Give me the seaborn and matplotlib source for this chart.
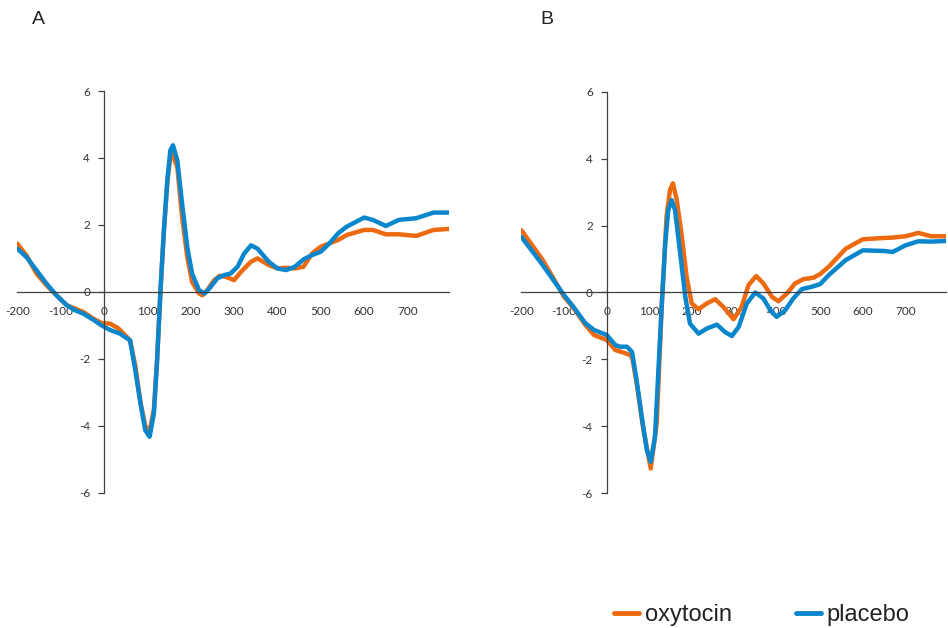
import numpy as np
import pandas as pd
import matplotlib
matplotlib.use("Agg")
import matplotlib.pyplot as plt
from matplotlib.lines import Line2D
import seaborn as sns

# ---- data ----
a_x_oxy = [-200, -179, -156, -133, -110, -86, -67, -48, -25, -6, 14, 33, 52, 60, 72, 84, 95, 105, 115, 122, 130,
           138, 146, 153, 157, 169, 180, 192, 203, 219, 227, 238, 254, 267, 281, 300, 316, 339, 354, 380, 400, 420,
           440, 460, 480, 500, 520, 540, 560, 600, 620, 650, 680, 720, 760, 795]
a_y_oxy = [1.44, 1.09, 0.55, 0.2, -0.1, -0.4, -0.5, -0.6, -0.8, -0.93, -0.95, -1.09, -1.34, -1.45, -2.2, -3.3, -4.0,
           -4.18, -3.5, -2.1, 0.0, 1.8, 3.3, 4.05, 4.13, 3.73, 2.24, 1.04, 0.3, -0.05, -0.1, 0.05, 0.35, 0.48, 0.45,
           0.35, 0.6, 0.9, 1.0, 0.8, 0.7, 0.72, 0.7, 0.75, 1.15, 1.35, 1.45, 1.55, 1.7, 1.85, 1.85, 1.72, 1.72, 1.67,
           1.85, 1.88]
a_x_pla = [-200, -179, -156, -133, -110, -86, -67, -48, -25, -6, 14, 37, 60, 72, 84, 95, 105, 115, 122, 130, 138,
           146, 153, 159, 169, 180, 192, 203, 219, 232, 246, 261, 277, 292, 308, 323, 339, 354, 380, 400, 420, 440,
           460, 480, 500, 520, 540, 560, 600, 620, 650, 680, 720, 760, 795]
a_y_pla = [1.29, 1.04, 0.65, 0.25, -0.1, -0.4, -0.55, -0.65, -0.83, -1.0, -1.14, -1.25, -1.45, -2.34, -3.33, -4.13,
           -4.33, -3.63, -2.14, 0.0, 1.84, 3.33, 4.23, 4.38, 3.93, 2.64, 1.34, 0.55, 0.05, -0.05, 0.15, 0.4, 0.5,
           0.55, 0.75, 1.14, 1.39, 1.29, 0.9, 0.7, 0.65, 0.75, 0.97, 1.1, 1.2, 1.45, 1.75, 1.95, 2.22, 2.15, 1.97,
           2.15, 2.2, 2.37, 2.37]

b_x_oxy = [-200, -150, -100, -80, -50, -30, 0, 20, 40, 55, 60, 70, 86, 103, 117, 129, 140, 148, 155, 164, 176, 187,
           199, 215, 234, 254, 273, 297, 316, 332, 350, 367, 387, 402, 422, 441, 461, 484, 500, 520, 560, 600, 650,
           670, 700, 730, 760, 795]
b_y_oxy = [1.86, 0.97, -0.13, -0.43, -0.97, -1.27, -1.42, -1.72, -1.8, -1.87, -1.97, -2.72, -4.11, -5.26, -3.91,
           -0.33, 2.26, 3.06, 3.26, 2.76, 1.66, 0.47, -0.33, -0.5, -0.33, -0.2, -0.43, -0.8, -0.43, 0.22, 0.49, 0.27,
           -0.13, -0.26, -0.03, 0.27, 0.4, 0.44, 0.55, 0.77, 1.31, 1.59, 1.63, 1.64, 1.68, 1.78, 1.68, 1.68]
b_x_pla = [-200, -150, -100, -80, -50, -30, 0, 20, 31, 47, 59, 70, 82, 94, 103, 113, 121, 129, 137, 144, 152, 160,
           172, 184, 195, 215, 234, 258, 277, 293, 309, 328, 348, 367, 383, 398, 418, 437, 457, 480, 500, 520, 560,
           600, 650, 670, 700, 730, 760, 795]
b_y_pla = [1.66, 0.82, -0.08, -0.4, -0.92, -1.12, -1.27, -1.57, -1.62, -1.62, -1.77, -2.62, -3.72, -4.71, -5.06,
           -4.31, -2.32, -0.33, 1.46, 2.46, 2.76, 2.46, 1.17, -0.13, -0.93, -1.23, -1.08, -0.96, -1.18, -1.3, -1.03,
           -0.33, 0.0, -0.18, -0.53, -0.73, -0.53, -0.18, 0.1, 0.17, 0.25, 0.52, 0.97, 1.26, 1.24, 1.21, 1.41, 1.53,
           1.52, 1.54]

conditions = ["oxytocin", "placebo"]
panel_labels = ["A", "B"]
x_ticks = [-200, -100, 0, 100, 200, 300, 400, 500, 600, 700]
y_ticks = [-6, -4, -2, 0, 2, 4, 6]

colors = {"oxytocin": "#EE6A10", "placebo": "#0A86CC"}


def frame(xo, yo, xp, yp):
    d1 = pd.DataFrame({"time": xo, "amp": yo, "cond": "oxytocin"})
    d2 = pd.DataFrame({"time": xp, "amp": yp, "cond": "placebo"})
    return pd.concat([d1, d2], ignore_index=True)


panels = [frame(a_x_oxy, a_y_oxy, a_x_pla, a_y_pla),
          frame(b_x_oxy, b_y_oxy, b_x_pla, b_y_pla)]

sns.set_style("white")
plt.rcParams["font.family"] = ["Lato", "DejaVu Sans"]

fig = plt.figure(figsize=(9.48, 6.28), dpi=100)
rects = [[0.0183, 0.2155, 0.455, 0.6395], [0.550, 0.2145, 0.448, 0.6395]]

for rect, df, lab in zip(rects, panels, panel_labels):
    ax = fig.add_axes(rect)
    sns.lineplot(data=df, x="time", y="amp", hue="cond", palette=colors, hue_order=conditions,
                 linewidth=3.2, ax=ax, legend=False, sort=False,
                 solid_joinstyle="round", solid_capstyle="round")
    ax.set_xlim(-200, 795)
    ax.set_ylim(-6, 6)
    for s in ["top", "right"]:
        ax.spines[s].set_visible(False)
    ax.spines["left"].set_position(("data", 0))
    ax.spines["bottom"].set_position(("data", 0))
    for s in ["left", "bottom"]:
        ax.spines[s].set_color("#404040")
        ax.spines[s].set_linewidth(0.9)
    ax.set_xticks(x_ticks)
    ax.set_yticks(y_ticks)
    ax.set_xticklabels([str(t) for t in x_ticks])
    ax.set_yticklabels([str(t) for t in y_ticks])
    ax.tick_params(axis="both", direction="out", length=4, width=0.9, color="#404040",
                   labelsize=8.5, labelcolor="#333333")
    ax.tick_params(axis="x", pad=6)
    ax.tick_params(axis="y", left=True, pad=6)
    ax.set_xlabel("")
    ax.set_ylabel("")
    ax.patch.set_alpha(0)

fig.text(38 / 948, 1 - 20 / 628, "A", fontsize=14, ha="center", va="center", color="#222222",
         family="Liberation Sans")
fig.text(547 / 948, 1 - 20 / 628, "B", fontsize=14, ha="center", va="center", color="#222222",
         family="Liberation Sans")

handles = [Line2D([0], [0], color=colors[c], lw=3.5) for c in conditions]
fig.legend(handles, conditions, loc="center", bbox_to_anchor=(762 / 948, 1 - 615 / 628), ncol=2,
           frameon=False, prop={"family": "Liberation Sans", "size": 17}, handlelength=1.05,
           handletextpad=0.25, columnspacing=2.7, labelcolor="#222222")

fig.savefig("out.png", dpi=100)
